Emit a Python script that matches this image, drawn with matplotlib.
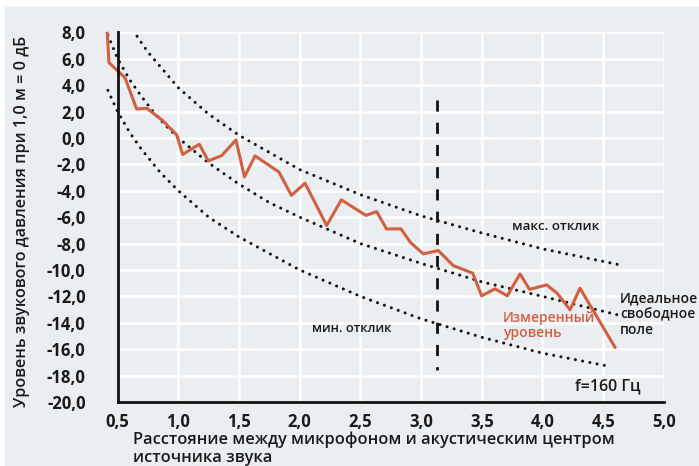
import matplotlib
matplotlib.use('Agg')
import matplotlib.pyplot as plt
from matplotlib.patches import Rectangle

# measured level (orange line)
meas_x = [0.415, 0.429, 0.561, 0.657, 0.740, 0.872, 0.987, 1.036, 1.173, 1.247,
          1.358, 1.475, 1.545, 1.632, 1.829, 1.932, 2.044, 2.222, 2.343, 2.546,
          2.634, 2.715, 2.834, 2.914, 3.018, 3.142, 3.265, 3.425, 3.499, 3.609,
          3.710, 3.815, 3.893, 4.035, 4.120, 4.227, 4.309, 4.447, 4.597]
meas_y = [7.92, 5.70, 4.56, 2.19, 2.25, 1.31, 0.23, -1.25, -0.48, -1.74,
          -1.34, -0.15, -2.95, -1.36, -2.58, -4.35, -3.43, -6.63, -4.69, -5.87,
          -5.58, -6.89, -6.89, -7.93, -8.78, -8.53, -9.67, -10.24, -11.96, -11.43,
          -11.96, -10.30, -11.47, -11.13, -11.76, -13.02, -11.38, -13.53, -15.85]

# ideal free field (dotted)
ideal_x = [0.42, 0.5, 0.6, 0.7, 0.8, 0.9, 1.0, 1.25, 1.5, 1.75, 2.0, 2.5, 3.0, 3.5, 4.0, 4.62]
ideal_y = [7.8, 6.0, 4.4, 3.1, 1.9, 0.9, 0.0, -1.9, -3.5, -4.9, -6.0, -8.0, -9.5, -10.9, -12.0, -13.4]

# max response (dotted)
max_x = [0.66, 0.75, 1.0, 1.25, 1.5, 2.0, 2.5, 3.0, 3.5, 4.0, 4.63]
max_y = [7.7, 6.5, 3.8, 1.8, 0.2, -2.4, -4.3, -5.9, -7.2, -8.4, -9.6]

# min response (dotted)
min_x = [0.42, 0.5, 0.6, 0.7, 0.85, 1.0, 1.25, 1.5, 2.0, 2.5, 3.0, 3.5, 4.0, 4.55]
min_y = [3.6, 2.0, 0.4, -0.9, -2.6, -4.0, -6.0, -7.5, -10.0, -12.0, -13.7, -15.1, -16.3, -17.3]

xticks = [0.5, 1.0, 1.5, 2.0, 2.5, 3.0, 3.5, 4.0, 4.5, 5.0]
yticks = list(range(-20, 9, 2))

bg = '#ebeef1'
red = '#d0603f'
font = 'Open Sans'

fig = plt.figure(figsize=(6.99, 4.66), dpi=100)
fig.patch.set_facecolor('white')
fig.add_artist(Rectangle((5 / 699, 0), 1, 1 - 7 / 466, transform=fig.transFigure,
                         color=bg, zorder=-10))

ax = fig.add_axes([117.6 / 699, 1 - 402 / 466, (663.9 - 117.6) / 699, (402 - 32.3) / 466])
ax.set_facecolor(bg)
ax.set_xlim(0.5, 5.0)
ax.set_ylim(-20, 8)
ax.set_xticks(xticks)
ax.set_yticks(yticks)
ax.set_xticklabels([f"{v:.1f}".replace('.', ',') for v in xticks])
ax.set_yticklabels([f"{v:.1f}".replace('.', ',') for v in yticks])
ax.tick_params(length=0, labelsize=12, colors='#1a1a1a')
ax.tick_params(axis='y', pad=23)
ax.tick_params(axis='x', pad=8)
for lab in ax.get_xticklabels() + ax.get_yticklabels():
    lab.set_family(font)
    lab.set_fontweight('bold')
ax.grid(color='white', linewidth=1.8)
ax.set_axisbelow(True)
for s in ['top', 'right']:
    ax.spines[s].set_visible(False)
for s in ['left', 'bottom']:
    ax.spines[s].set_linewidth(2)
    ax.spines[s].set_color('#111111')
    ax.spines[s].set_zorder(5)

dot = dict(color='#111111', linewidth=2.2, linestyle=(0, (0.01, 2.4)),
           dash_capstyle='round', clip_on=False, zorder=3)
ax.plot(ideal_x, ideal_y, **dot)
ax.plot(max_x, max_y, **dot)
ax.plot(min_x, min_y, **dot)

ax.plot(meas_x, meas_y, color=red, linewidth=2.2, clip_on=False, zorder=4)

ax.plot([3.134, 3.134], [2.9, -17.55], color='#111111', linewidth=2,
        linestyle=(0, (4, 4)), zorder=4)

tkw = dict(family=font, fontweight='semibold', color='#1a1a1a')
ax.text(3.749, -6.74, 'макс. отклик', fontsize=9.6, va='center', ha='left', **tkw)
ax.text(2.101, -14.46, 'мин. отклик', fontsize=9.3, va='center', ha='left', **tkw)
ax.text(4.639, -13.33, 'Идеальное\nсвободное\nполе', fontsize=10, va='center',
        ha='left', linespacing=1.15, clip_on=False, **tkw)
ax.text(4.268, -18.83, 'f=160 Гц', fontsize=11.5, va='center', ha='left', **tkw)
ax.text(3.675, -14.21, 'Измеренный\nуровень', fontsize=10, va='center', ha='left',
        linespacing=1.05, family=font, fontweight='semibold', color=red)

fig.text(22 / 699, 1 - 221 / 466, 'Уровень звукового давления при 1,0 м = 0 дБ',
         rotation=90, va='center', ha='center', fontsize=11.6, **tkw)
fig.text(133 / 699, 1 - 431 / 466,
         'Расстояние между микрофоном и акустическим центром\nисточника звука',
         va='top', ha='left', fontsize=11.8, linespacing=1.25, **tkw)

fig.savefig('out.png', dpi=100)
